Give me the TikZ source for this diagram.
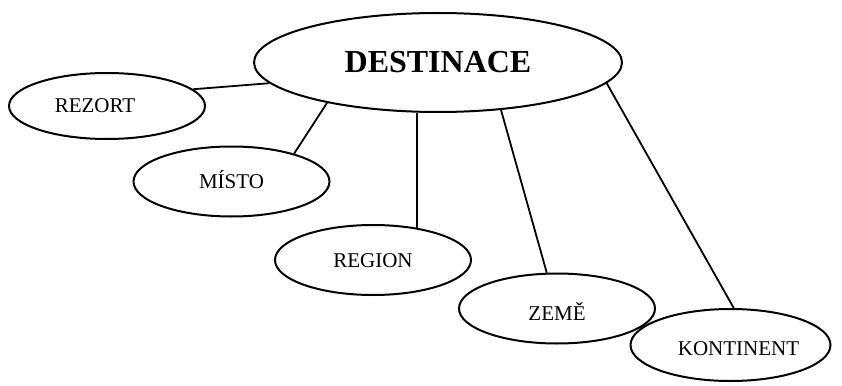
\documentclass[tikz,border=0pt]{standalone}
\usepackage{fontspec}
\setmainfont{Liberation Serif}
\usetikzlibrary{shapes.geometric}
\begin{document}
\begin{tikzpicture}[x=1pt,y=-1pt,
  bubble/.style={draw, ellipse, line width=2pt, inner sep=0pt,
    minimum width=196pt, minimum height=70pt,
    font=\fontsize{21}{24}\selectfont, text height=14pt, text depth=0pt},
  link/.style={line width=1.8pt}]
\useasboundingbox (0,0) rectangle (842,385);
\node[bubble, minimum width=368pt, minimum height=99pt,
  font=\fontsize{32}{36}\selectfont\bfseries, text height=21pt] (dest) at (438,62.5) {DESTINACE};
\node[bubble, minimum height=66pt] (rezort) at (107,106) {\hspace*{-24pt}REZORT};
\node[bubble] (misto) at (231.5,181.5) {MÍSTO};
\node[bubble] (region) at (373,260) {REGION};
\node[bubble] (zeme) at (557,308.5) {\raisebox{-5pt}{ZEMĚ}};
\node[bubble, minimum width=200pt, minimum height=72pt] (kont) at (730.5,345) {\hspace*{16pt}\raisebox{-3pt}{KONTINENT}};
\draw[link] (rezort.11) -- (dest.187);
\draw[link] (misto.24) -- (dest.200);
\draw[link] (region.36) -- (region.36 |- dest.south);
\draw[link] (zeme.106) -- (dest.323);
\draw[link] (kont.85) -- (dest.353);
\end{tikzpicture}
\end{document}
